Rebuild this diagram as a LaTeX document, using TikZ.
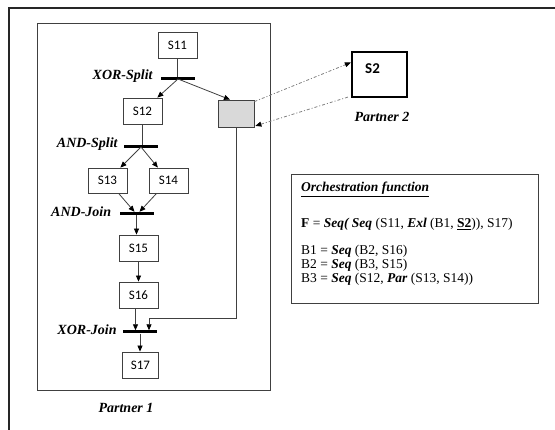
\documentclass[tikz,border=0pt]{standalone}
\usepackage{fontspec}
\setmainfont{Liberation Serif}
\newfontfamily\boxfont{Carlito}
\usetikzlibrary{positioning, arrows.meta}
\definecolor{linegray}{HTML}{404040}
\definecolor{taskgray}{HTML}{D9D9D9}
\tikzset{
  task/.style    = {rectangle, draw=linegray, line width=0.8pt, fill=white,
                    minimum width=39pt, minimum height=26pt, inner sep=0pt,
                    font=\boxfont\fontsize{13}{15}\selectfont},
  gate/.style    = {rectangle, fill=black, minimum width=34pt, minimum height=3pt,
                    inner sep=0pt},
  gatelab/.style = {font=\fontsize{14}{16}\selectfont\bfseries\itshape, inner sep=0pt},
  plain/.style   = {draw=linegray, line width=0.8pt},
  flow/.style    = {draw=linegray, line width=0.8pt,
                    -{Triangle[length=6pt, width=5pt, color=black]}},
  msg/.style     = {draw=gray, line width=0.8pt, dash pattern=on 3pt off 2pt on 1pt off 2pt,
                    -{Triangle[length=6pt, width=5pt, color=black]}},
}

\begin{document}
\begin{tikzpicture}[x=1pt, y=-1pt]
\useasboundingbox (0,0) rectangle (555,430);

% Outer frame and partner 1 pool
\draw [line width=2pt, black!85] (555,8) -- (9,8) -- (9,430);
\node (partner1) [draw=linegray, line width=0.8pt, minimum width=233pt,
  minimum height=367pt] at (153.5,206.5) {};
\node (p1lab) [gatelab, anchor=base] at (126,413) {Partner 1};

% Tasks
\node (s11) [task] at (177.5,45) {S11};
\node (s12) [task] at (142.5,111) {S12};
\node (grey) [task, fill=taskgray, minimum width=36pt, minimum height=27pt] at (236,113.5) {};
\node (s13) [task, minimum height=25pt] at (107.5,180.5) {S13};
\node (s14) [task, minimum height=25pt] at (168.5,180.5) {S14};
\node (s15) [task] at (138.5,248) {S15};
\node (s16) [task] at (138.5,295) {S16};
\node (s17) [task, minimum width=36pt] at (140.5,365) {S17};

% Gateways
\node (xsplit) [gate] at (178,79) {};
\node (asplit) [gate] at (141,147) {};
\node (ajoin) [gate] at (136.5,213.5) {};
\node (xjoin) [gate] at (140,332) {};
\node [gatelab, left=8pt of xsplit, yshift=3pt] {XOR-Split};
\node [gatelab, left=6pt of asplit, yshift=3pt] {AND-Split};
\node [gatelab, left=8pt of ajoin, yshift=1.5pt] {AND-Join};
\node [gatelab, left=6pt of xjoin, yshift=2pt] {XOR-Join};

% Partner 2
\node (s2) [draw=black, line width=2.2pt, minimum width=55pt, minimum height=45pt,
  inner sep=0pt, label={[font=\boxfont\bfseries\fontsize{15}{17}\selectfont,
  xshift=-7pt, yshift=6pt]center:S2}] at (379.5,74.5) {};
\node (p2lab) [gatelab, anchor=base] at (382,121.5) {Partner 2};

% Control flow
\draw [plain] (s11.south) -- (s11.south |- xsplit.north);
\draw [flow] (xsplit.center) -- (s12);
\draw [flow] (xsplit.center) -- ([xshift=-6pt]grey.north);
\draw [plain] (s12.south) -- (s12.south |- asplit.north);
\draw [flow] (asplit.center) -- (s13);
\draw [flow] (asplit.center) -- (s14);
\draw [flow] (s13) -- ([xshift=-2pt]ajoin.north);
\draw [flow] (s14) -- ([xshift=3pt]ajoin.north);
\draw [flow] (ajoin.south) -- (ajoin.south |- s15.north);
\draw [flow] (s15) -- (s16);
\draw [flow] ([xshift=-3pt]s16.south) -- ([xshift=-3pt]s16.south |- xjoin.north);
\coordinate (turn) at (149,318);
\draw [flow] (grey.south) |- (turn) -- (turn |- xjoin.north);
\draw [flow] (xjoin.south) -- (xjoin.south |- s17.north);

% Messages to and from partner 2
\draw [msg] ([yshift=-2pt]grey.north east) -- ([yshift=12pt]s2.west);
\draw [msg] ([xshift=-3pt, yshift=1pt]s2.south west) -- ([xshift=1pt, yshift=1.5pt]grey.south east);

% Orchestration function
\node (orch) [draw=linegray, line width=0.8pt, minimum width=247pt,
  minimum height=129pt] at (414.5,238.5) {};
\node (orchtext) [anchor=north west, inner sep=0pt, align=left,
  font=\fontsize{13.5}{14}\selectfont] at (301,182) {%
  \underline{\textbf{\textit{Orchestration function}}}\\[21pt]
  \textbf{F} = \textbf{\textit{Seq( Seq}} (S11, \textbf{\textit{Exl}} (B1, \underline{\textbf{S2}})), S17)\\[13pt]
  B1 = \textbf{\textit{Seq}} (B2, S16)\\
  B2 = \textbf{\textit{Seq}} (B3, S15)\\
  B3 = \textbf{\textit{Seq}} (S12, \textbf{\textit{Par}} (S13, S14))};

\end{tikzpicture}
\end{document}
